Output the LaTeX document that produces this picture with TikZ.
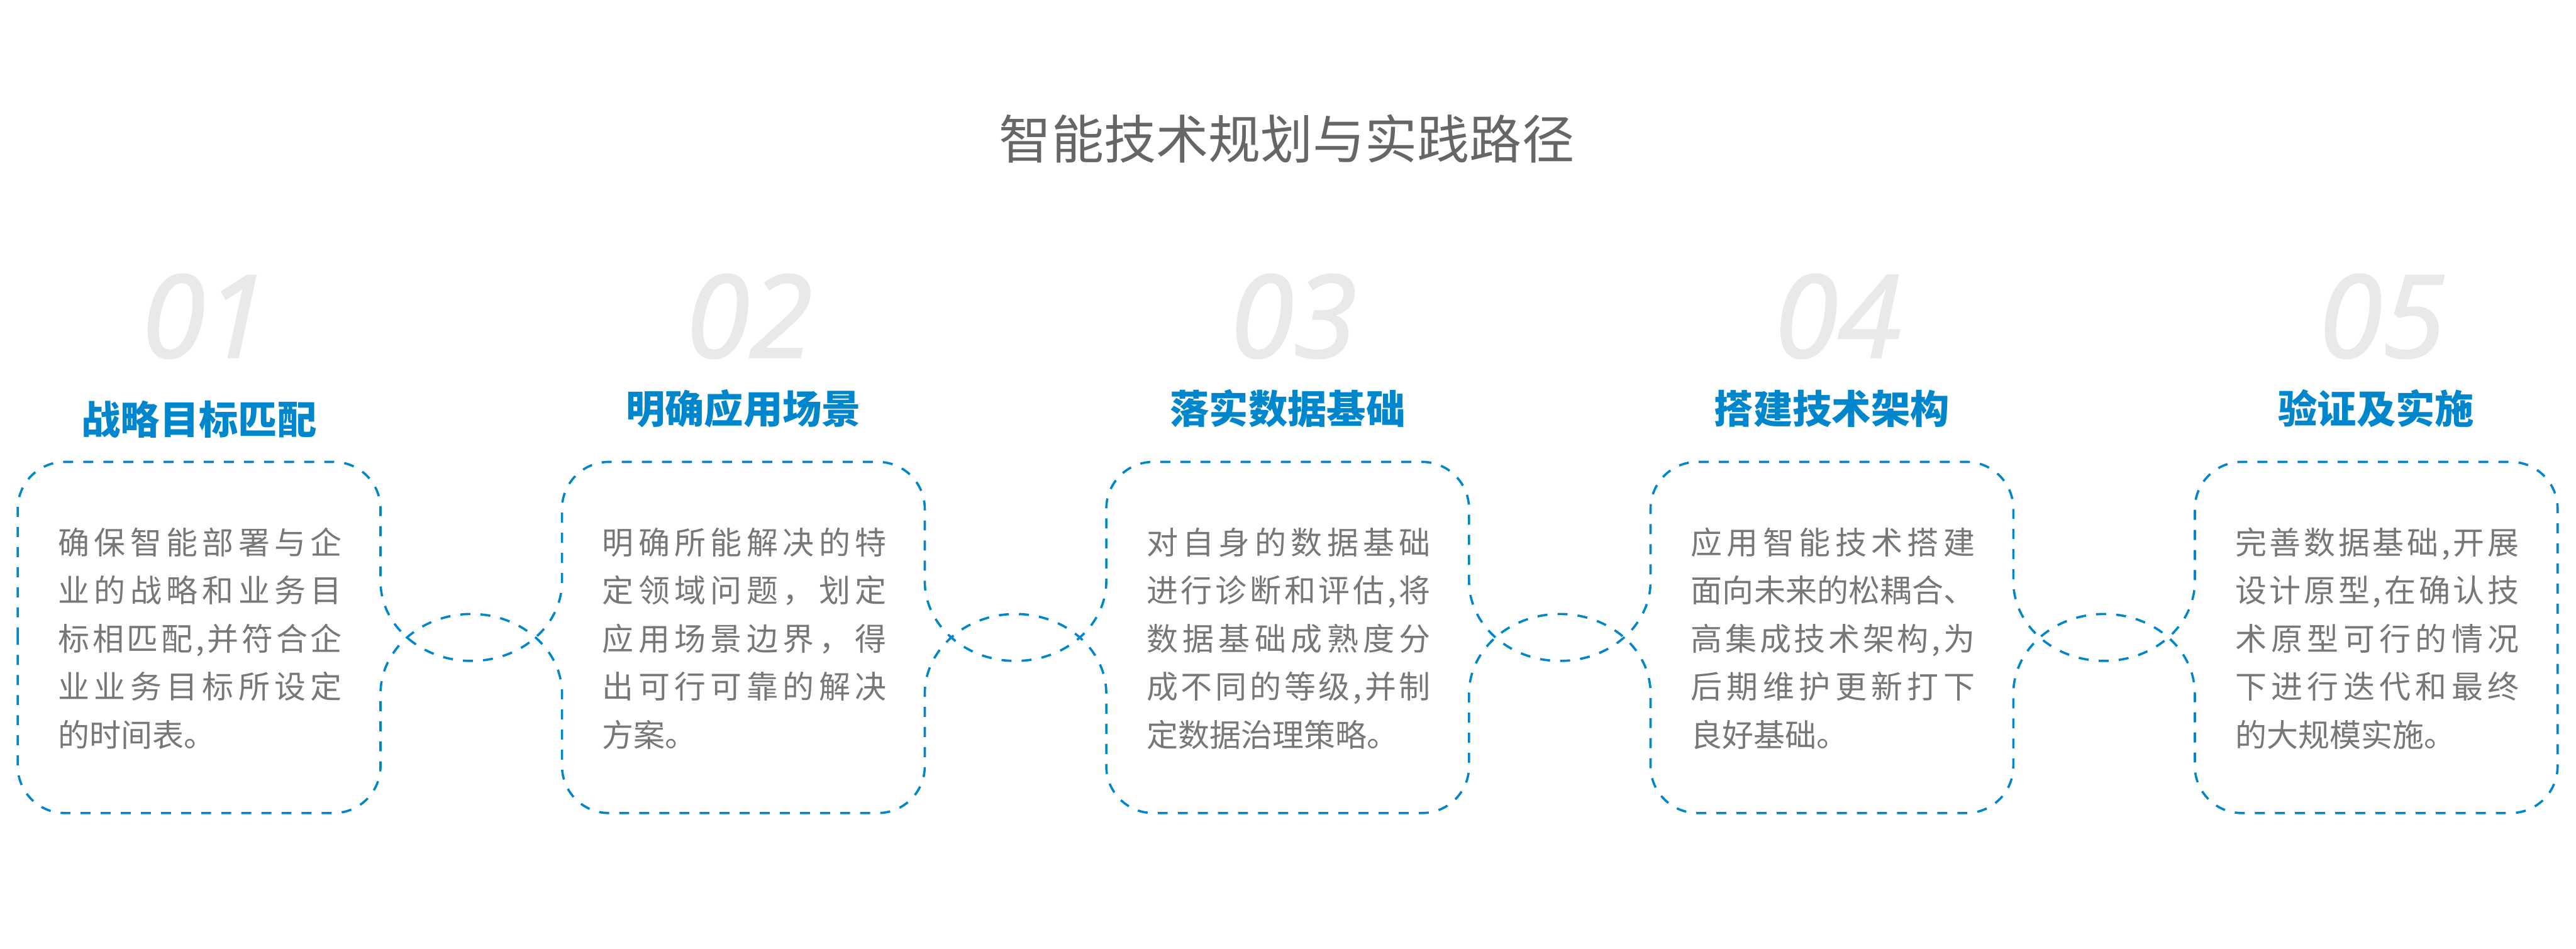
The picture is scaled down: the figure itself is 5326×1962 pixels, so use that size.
\documentclass[tikz,border=0pt]{standalone}
\usepackage{fontspec}
\setmainfont{Noto Sans CJK SC}
\newfontfamily\numfont{Open Sans}[ItalicFeatures={FakeBold=1.6}]
\usepackage{xcolor}
\definecolor{stepblue}{HTML}{0086CC}
\definecolor{titlegray}{HTML}{666666}
\definecolor{bodygray}{HTML}{777777}
\definecolor{numgray}{HTML}{E9E9E9}

% one body line spread over the full text width
\newlength\bodyw
\setlength\bodyw{5.87cm}
\makeatletter
\def\jl@x#1#2\jl@end{#1\if\relax\detokenize{#2}\relax\else\hfill\jl@x#2\jl@end\fi}
\newcommand\fline[1]{\makebox[\bodyw][l]{\jl@x#1\jl@end}}
\makeatother

\begin{document}
\begin{tikzpicture}[
  x=0.01cm, y=0.01cm,
  every node/.style={inner sep=0pt},
  outline/.style={draw=stepblue, line width=0.047cm, dash pattern=on 0.207cm off 0.208cm},
  pagetitle/.style={font=\fontsize{30.73pt}{34pt}\selectfont, text=titlegray},
  stepnum/.style={font=\numfont\itshape\fontsize{67.4pt}{70pt}\selectfont, text=numgray},
  stephead/.style={font=\fontsize{23.05pt}{26pt}\selectfont\bfseries, text=stepblue},
  stepbody/.style={font=\fontsize{18.49pt}{28.31pt}\selectfont, text=bodygray, align=left, anchor=north},
]
\fill[white] (0,0) rectangle (5326,-1962);
\useasboundingbox (0,0) rectangle (5326,-1962);

\node[pagetitle] (title) at (2660.5,-286.5) {智能技术规划与实践路径};

% big step numbers
\node[stepnum] (num1) at (424,-654) {01};
\node[stepnum] (num2) at (1549.3,-654) {02};
\node[stepnum] (num3) at (2674.6,-654) {03};
\node[stepnum] (num4) at (3799.9,-654) {04};
\node[stepnum] (num5) at (4925.2,-654) {05};

% step headings
\node[stephead] (head1) at (411.7,-867) {战略目标匹配};
\node[stephead] (head2) at (1537,-845) {明确应用场景};
\node[stephead] (head3) at (2662.3,-845) {落实数据基础};
\node[stephead] (head4) at (3787.6,-845) {搭建技术架构};
\node[stephead] (head5) at (4912.9,-845) {验证及实施};

% step texts
\node[stepbody] (body1) at (413.7,-1090)
  {\fline{确保智能部署与企}\\ \fline{业的战略和业务目}\\ \fline{标相匹配,并符合企}\\
   \fline{业业务目标所设定}\\ 的时间表。};
\node[stepbody] (body2) at (1539,-1090)
  {\fline{明确所能解决的特}\\ \fline{定领域问题，划定}\\ \fline{应用场景边界，得}\\
   \fline{出可行可靠的解决}\\ 方案。};
\node[stepbody] (body3) at (2664.3,-1090)
  {\fline{对自身的数据基础}\\ \fline{进行诊断和评估,将}\\ \fline{数据基础成熟度分}\\
   \fline{成不同的等级,并制}\\ 定数据治理策略。};
\node[stepbody] (body4) at (3789.6,-1090)
  {\fline{应用智能技术搭建}\\ \fline{面向未来的松耦合、}\\ \fline{高集成技术架构,为}\\
   \fline{后期维护更新打下}\\ 良好基础。};
\node[stepbody] (body5) at (4914.9,-1090)
  {\fline{完善数据基础,开展}\\ \fline{设计原型,在确认技}\\ \fline{术原型可行的情况}\\
   \fline{下进行迭代和最终}\\ 的大规模实施。};

% dashed outline: five rounded boxes linked by crossing arcs
\draw[outline] (36.7,-1318)
  \foreach \k in {0,1,2,3}{
    -- ({36.7+\k*1125.3},-1052) arc[start angle=180, end angle=90, radius=97]
    -- ({689.7+\k*1125.3},-955) arc[start angle=90, end angle=0, radius=97]
    -- ({786.7+\k*1125.3},-1201.5)
    arc[start angle=180, end angle=360, x radius=187.65, y radius=165]
  }
  -- (4537.9,-1052) arc[start angle=180, end angle=90, radius=97]
  -- (5190.9,-955) arc[start angle=90, end angle=0, radius=97]
  \foreach \k in {4,3,2,1}{
    -- ({786.7+\k*1125.3},-1584) arc[start angle=0, end angle=-90, radius=97]
    -- ({133.7+\k*1125.3},-1681) arc[start angle=270, end angle=180, radius=97]
    -- ({36.7+\k*1125.3},-1434.5)
    arc[start angle=0, end angle=180, x radius=187.65, y radius=165]
  }
  -- (786.7,-1584) arc[start angle=0, end angle=-90, radius=97]
  -- (133.7,-1681) arc[start angle=270, end angle=180, radius=97]
  -- cycle;
\end{tikzpicture}
\end{document}
